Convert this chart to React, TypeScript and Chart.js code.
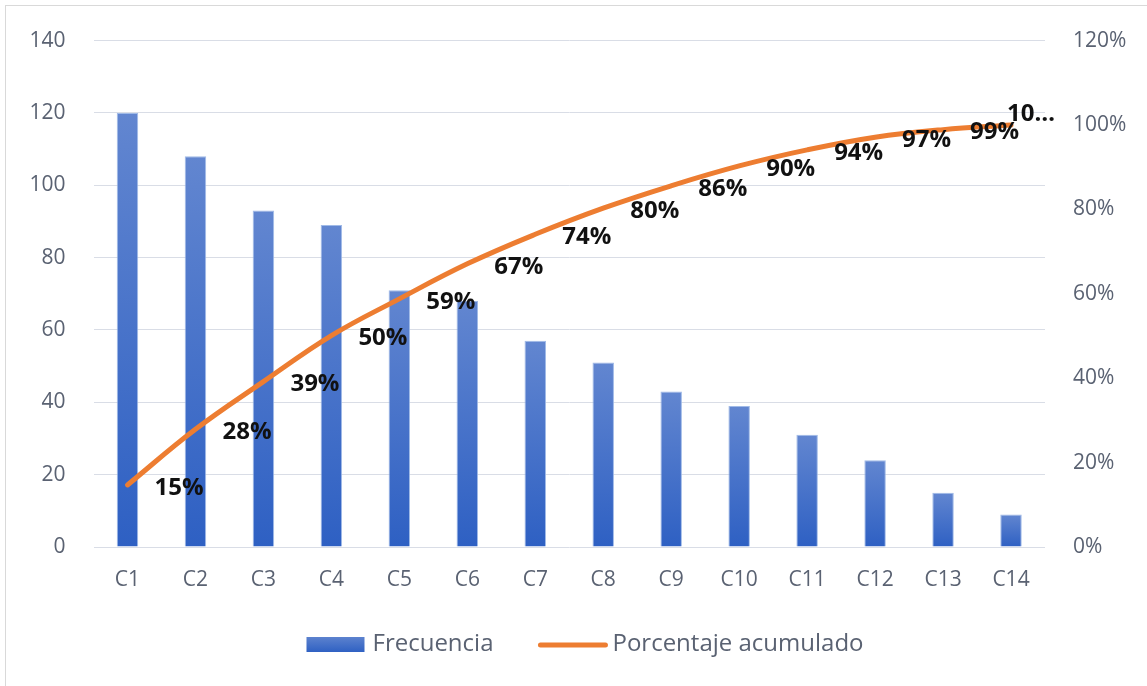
import React, { useEffect, useRef } from "react";
import { Chart, registerables } from "chart.js";

Chart.register(...registerables);

const categories = ["C1", "C2", "C3", "C4", "C5", "C6", "C7", "C8", "C9", "C10", "C11", "C12", "C13", "C14"];
const frecuencia = [120, 108, 93, 89, 71, 68, 57, 51, 43, 39, 31, 24, 15, 9];
const acumulado = [0.147, 0.279, 0.392, 0.501, 0.588, 0.671, 0.741, 0.803, 0.856, 0.903, 0.941, 0.971, 0.989, 1.0];
const acumuladoLabels = ["15%", "28%", "39%", "50%", "59%", "67%", "74%", "80%", "86%", "90%", "94%", "97%", "99%", "10…"];
const leftTicks = [0, 20, 40, 60, 80, 100, 120, 140];
const rightTicks = ["0%", "20%", "40%", "60%", "80%", "100%", "120%"];

const TICK_COLOR = "#5a6272";
const FONT = "'Open Sans', 'Noto Sans', sans-serif";

const framePlugin = {
  id: "frame",
  beforeDraw(chart: any) {
    const ctx = chart.ctx;
    ctx.save();
    ctx.fillStyle = "#ffffff";
    ctx.fillRect(0, 0, chart.width, chart.height);
    ctx.strokeStyle = "#d9d9d9";
    ctx.lineWidth = 1;
    ctx.strokeRect(5.5, 5.5, chart.width + 10, chart.height + 10);
    ctx.restore();
  },
};

const labelPlugin = {
  id: "pctLabels",
  afterDatasetsDraw(chart: any) {
    const ctx = chart.ctx;
    const meta = chart.getDatasetMeta(1);
    ctx.save();
    ctx.font = `700 24px ${FONT}`;
    ctx.fillStyle = "#111111";
    ctx.textBaseline = "middle";
    ctx.textAlign = "left";
    meta.data.forEach((pt: any, i: number) => {
      const text = acumuladoLabels[i];
      const w = ctx.measureText(text).width;
      let x = pt.x + 27;
      let y = pt.y + 3;
      if (x + w > chart.chartArea.right + 10) {
        x = pt.x - 4;
        y = pt.y - 11;
      }
      ctx.fillText(text, x, y);
    });
    ctx.restore();
  },
};

const legendPlugin = {
  id: "customLegend",
  afterDraw(chart: any) {
    const ctx = chart.ctx;
    ctx.save();
    ctx.font = `24px ${FONT}`;
    const t1 = "Frecuencia";
    const t2 = "Porcentaje acumulado";
    const w1 = ctx.measureText(t1).width;
    const w2 = ctx.measureText(t2).width;
    const boxW = 58, gap = 8, spacing = 47, lineW = 65, gap2 = 7;
    const total = boxW + gap + w1 + spacing + lineW + gap2 + w2;
    const cy = 644;
    let x = 585 - total / 2;
    const grad = ctx.createLinearGradient(0, cy - 8, 0, cy + 8);
    grad.addColorStop(0, "#5f84cf");
    grad.addColorStop(1, "#2f61c3");
    ctx.fillStyle = grad;
    ctx.fillRect(x, cy - 7, boxW, 15);
    x += boxW + gap;
    ctx.fillStyle = TICK_COLOR;
    ctx.textBaseline = "middle";
    ctx.fillText(t1, x, cy);
    x += w1 + spacing;
    ctx.strokeStyle = "#ed7d31";
    ctx.lineWidth = 5;
    ctx.lineCap = "round";
    ctx.beginPath();
    ctx.moveTo(x, cy + 1);
    ctx.lineTo(x + lineW, cy + 1);
    ctx.stroke();
    x += lineW + gap2;
    ctx.fillText(t2, x, cy);
    ctx.restore();
  },
};

export default function App() {
  const ref = useRef<HTMLCanvasElement | null>(null);

  useEffect(() => {
    if (!ref.current) return;
    const chart = new Chart(ref.current, {
      type: "bar",
      data: {
        labels: categories,
        datasets: [
          {
            type: "bar",
            label: "Frecuencia",
            data: frecuencia,
            yAxisID: "y",
            order: 1,
            barPercentage: 0.316,
            categoryPercentage: 1,
            borderWidth: 1,
            borderColor: "rgba(150,178,228,0.9)",
            backgroundColor: (c: any) => {
              const ch = c.chart;
              if (!ch.chartArea || c.dataIndex === undefined) return "#4472c4";
              const ys = ch.scales.y;
              const top = ys.getPixelForValue(frecuencia[c.dataIndex]);
              const bottom = ys.getPixelForValue(0);
              const g = ch.ctx.createLinearGradient(0, top, 0, bottom);
              g.addColorStop(0, "#6286d0");
              g.addColorStop(1, "#2e60c3");
              return g;
            },
          } as any,
          {
            type: "line",
            label: "Porcentaje acumulado",
            data: acumulado,
            yAxisID: "y1",
            order: 0,
            borderColor: "#ed7d31",
            borderWidth: 5,
            borderCapStyle: "round",
            tension: 0.4,
            pointRadius: 0,
            fill: false,
          } as any,
        ],
      },
      options: {
        animation: false,
        responsive: false,
        layout: { padding: { top: 40, left: 0, right: 0, bottom: 0 } },
        plugins: {
          legend: { display: false },
          tooltip: { enabled: false },
          title: { display: false },
        },
        scales: {
          x: {
            grid: { display: false, drawTicks: false },
            border: { display: false },
            ticks: {
              color: TICK_COLOR,
              font: { family: FONT, size: 21 },
              padding: 20,
            },
            afterFit: (s: any) => {
              s.height = 139;
            },
          },
          y: {
            position: "left",
            min: 0,
            max: 140,
            afterBuildTicks: (s: any) => {
              s.ticks = leftTicks.map((v) => ({ value: v }));
            },
            grid: { color: "#d9dde6", lineWidth: 1, drawTicks: false },
            border: { display: false },
            ticks: {
              color: TICK_COLOR,
              font: { family: FONT, size: 21 },
              padding: 28,
            },
            afterFit: (s: any) => {
              s.width = 93.5;
            },
          },
          y1: {
            position: "right",
            min: 0,
            max: 1.2,
            afterBuildTicks: (s: any) => {
              s.ticks = rightTicks.map((_, i) => ({ value: i * 0.2 }));
            },
            grid: { display: false, drawTicks: false },
            border: { display: false },
            ticks: {
              color: TICK_COLOR,
              font: { family: FONT, size: 21 },
              padding: 28,
              callback: (_v: any, i: number) => rightTicks[i],
            },
            afterFit: (s: any) => {
              s.width = 102;
            },
          },
        },
      },
      plugins: [framePlugin, labelPlugin, legendPlugin],
    });
    return () => chart.destroy();
  }, []);

  return (
    <div style={{ position: "fixed", left: 0, top: 0, width: 1147, height: 686, background: "#fff" }}>
      <canvas ref={ref} width={1147} height={686} style={{ display: "block" }} />
    </div>
  );
}
